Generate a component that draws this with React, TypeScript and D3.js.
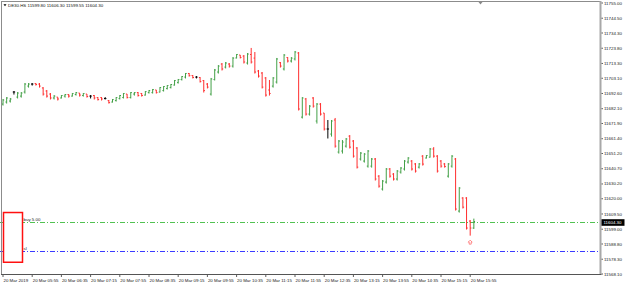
import * as d3 from "d3";

const symbol = "DE30.HS";

// OHLC, 5-minute bars from 20 Mar 2019 05:15
const opens = [
  11685.3, 11686.7, 11687.4, 11693.6, 11690.1, 11690.8, 11693.6, 11697.7, 11699.1, 11699.5,
  11699.1, 11696.4, 11694.3, 11692.2, 11689.5, 11690.1, 11689.5, 11690.8, 11691.9, 11690.8,
  11691.9, 11692.9, 11691.2, 11692.2, 11690.8, 11691.2, 11689.8, 11689.8, 11689.1, 11687.7,
  11686.7, 11687.7, 11689.1, 11689.8, 11692.2, 11689.8, 11692.2, 11693.2, 11692.6, 11691.5,
  11693.2, 11693.2, 11695.0, 11693.6, 11694.6, 11696.0, 11696.7, 11698.4, 11700.1, 11702.2,
  11703.9, 11706.4, 11705.0, 11703.9, 11703.6, 11701.5, 11699.1, 11692.2, 11702.2, 11707.4,
  11712.9, 11710.8, 11712.9, 11711.5, 11717.1, 11719.1, 11718.4, 11713.6, 11719.5, 11717.0,
  11708.1, 11706.7, 11703.3, 11695.0, 11697.7, 11700.5, 11713.9, 11709.5, 11717.4, 11715.0,
  11716.4, 11720.5, 11676.3, 11688.8, 11678.4, 11689.5, 11673.6, 11685.3, 11679.1, 11668.1,
  11664.6, 11674.3, 11652.2, 11652.9, 11656.3, 11663.2, 11659.8, 11655.0, 11647.4, 11646.0,
  11642.5, 11642.5, 11647.4, 11635.6, 11626.7, 11631.5, 11640.5, 11637.0, 11633.6, 11638.4,
  11640.5, 11645.3, 11646.0, 11644.0, 11641.8, 11649.4, 11648.1, 11648.7, 11654.3, 11649.4,
  11646.0, 11644.0, 11635.6, 11642.5, 11647.4, 11611.5, 11620.5, 11620.5, 11604.6, 11599.8,
];
const highs = [
  11688.8, 11690.1, 11689.5, 11694.3, 11693.6, 11693.6, 11699.8, 11699.8, 11699.8, 11699.8,
  11699.8, 11697.0, 11695.0, 11692.9, 11691.5, 11690.1, 11691.5, 11692.2, 11692.2, 11692.9,
  11693.6, 11692.9, 11692.9, 11692.2, 11691.5, 11691.5, 11690.1, 11690.1, 11690.1, 11688.1,
  11688.8, 11690.1, 11691.5, 11692.9, 11692.2, 11693.6, 11693.6, 11693.6, 11692.9, 11694.3,
  11695.0, 11695.7, 11695.0, 11697.0, 11697.7, 11698.4, 11699.1, 11701.9, 11702.6, 11704.6,
  11706.7, 11706.7, 11705.3, 11704.6, 11703.9, 11701.9, 11699.8, 11703.3, 11709.5, 11712.2,
  11713.6, 11714.3, 11713.6, 11717.7, 11719.8, 11719.1, 11719.1, 11720.5, 11724.0, 11721.2,
  11708.8, 11707.4, 11703.9, 11701.9, 11703.9, 11717.1, 11714.3, 11719.8, 11717.7, 11717.7,
  11721.9, 11721.2, 11690.1, 11689.5, 11684.6, 11690.1, 11686.0, 11686.0, 11679.1, 11674.3,
  11674.3, 11675.7, 11660.5, 11660.5, 11661.9, 11663.9, 11660.5, 11655.6, 11652.2, 11651.5,
  11653.6, 11648.1, 11648.1, 11636.3, 11632.9, 11641.2, 11641.2, 11637.7, 11639.8, 11641.8,
  11646.7, 11648.7, 11646.7, 11644.6, 11644.6, 11650.1, 11650.1, 11655.0, 11655.6, 11650.1,
  11646.7, 11644.6, 11644.6, 11650.1, 11648.1, 11628.0, 11621.1, 11621.1, 11605.3, 11606.3,
];
const lows = [
  11684.6, 11686.0, 11686.7, 11692.2, 11689.5, 11690.1, 11692.9, 11697.0, 11698.4, 11698.4,
  11697.0, 11691.5, 11690.1, 11688.8, 11688.8, 11688.1, 11689.5, 11690.1, 11690.1, 11690.8,
  11691.5, 11690.8, 11690.8, 11690.1, 11689.5, 11688.8, 11688.1, 11688.1, 11688.8, 11686.0,
  11686.7, 11687.4, 11688.8, 11689.5, 11689.5, 11689.5, 11691.5, 11690.8, 11690.8, 11691.5,
  11692.9, 11692.9, 11692.9, 11693.6, 11694.3, 11695.7, 11696.4, 11698.4, 11699.8, 11701.9,
  11703.3, 11704.6, 11703.3, 11703.3, 11700.5, 11693.6, 11696.4, 11691.5, 11701.9, 11706.7,
  11708.8, 11710.2, 11710.8, 11710.8, 11717.1, 11717.1, 11713.6, 11712.9, 11713.6, 11706.7,
  11703.9, 11696.4, 11690.8, 11691.5, 11697.0, 11699.8, 11710.8, 11708.8, 11714.3, 11714.3,
  11715.7, 11681.2, 11675.7, 11677.7, 11677.7, 11683.2, 11672.2, 11677.7, 11667.4, 11661.9,
  11663.2, 11655.6, 11651.5, 11651.5, 11655.6, 11655.0, 11648.7, 11641.2, 11646.7, 11645.3,
  11641.8, 11641.8, 11632.9, 11628.0, 11626.0, 11630.8, 11634.9, 11632.9, 11632.9, 11637.7,
  11639.8, 11644.6, 11639.8, 11638.4, 11641.2, 11643.2, 11648.1, 11648.7, 11648.7, 11638.4,
  11641.8, 11641.8, 11634.9, 11641.8, 11612.2, 11610.8, 11613.6, 11599.1, 11594.9, 11599.55,
];
const closes = [
  11688.1, 11689.5, 11688.8, 11693.6, 11692.9, 11692.9, 11699.1, 11699.1, 11699.1, 11698.8,
  11697.7, 11692.2, 11690.8, 11689.5, 11690.8, 11688.8, 11691.2, 11691.9, 11690.8, 11692.6,
  11693.2, 11691.5, 11692.6, 11690.5, 11690.8, 11689.5, 11688.4, 11688.8, 11689.1, 11686.3,
  11688.4, 11689.8, 11691.2, 11692.6, 11689.8, 11693.2, 11693.2, 11691.2, 11691.2, 11693.9,
  11694.6, 11695.3, 11693.2, 11696.7, 11697.4, 11698.1, 11698.8, 11701.5, 11702.2, 11704.3,
  11706.4, 11704.9, 11703.6, 11703.9, 11700.8, 11694.6, 11697.0, 11702.6, 11708.8, 11711.5,
  11709.5, 11713.6, 11711.5, 11717.0, 11719.5, 11717.4, 11714.3, 11719.8, 11714.3, 11707.4,
  11704.6, 11697.0, 11691.5, 11692.6, 11703.3, 11716.4, 11711.5, 11719.1, 11715.0, 11717.0,
  11721.2, 11681.9, 11689.5, 11678.4, 11683.9, 11683.9, 11685.3, 11678.4, 11668.1, 11668.1,
  11673.6, 11656.3, 11659.8, 11659.1, 11661.2, 11655.6, 11649.4, 11641.8, 11651.5, 11650.8,
  11652.9, 11647.4, 11633.6, 11628.7, 11632.2, 11640.5, 11635.6, 11633.6, 11639.1, 11641.2,
  11646.0, 11648.1, 11640.5, 11639.1, 11644.0, 11643.9, 11649.8, 11654.3, 11649.4, 11639.1,
  11642.5, 11642.2, 11644.0, 11649.4, 11612.9, 11627.4, 11614.2, 11599.8, 11599.8, 11604.3,
];

const timeTicks = [
  "05:15", "05:55", "06:35", "07:15", "07:55", "08:35", "09:15", "09:55", "10:35",
  "11:15", "11:55", "12:35", "13:15", "13:55", "14:35", "15:15", "15:55",
];
const priceTicks = [
  11755.0, 11744.5, 11734.3, 11723.8, 11713.3, 11703.1, 11692.6, 11682.1, 11671.9, 11661.4,
  11651.2, 11640.7, 11630.2, 11620.0, 11609.5, 11599.0, 11588.8, 11578.3, 11568.1,
];

const orderPrice = 11604.3;
const orderLabel = "buy 5.00";
const stopLoss = 11584.0;
const stopLabel = "sl";

const W = 625;
const H = 286;
const plotRight = 600;
const plotBottom = 274;
const font = "'Liberation Sans', Arial, sans-serif";
const fs = 4.4;
const UP = "#43a047";
const DOWN = "#ff2e2e";

export default function App() {
  const parse = d3.timeParse("%Y-%m-%d %H:%M");
  const t0 = parse("2019-03-20 05:15")!;
  const times = closes.map((_, i) => d3.timeMinute.offset(t0, 5 * i));

  const x = d3
    .scaleTime()
    .domain([times[0], times[times.length - 1]])
    .range([3, 473.85]);
  const y = d3.scaleLinear().domain([11568.1, 11755]).range([plotBottom, 3]);

  const fmt = d3.format(".2f");
  const tickX = (s: string) => x(parse("2019-03-20 " + s)!);
  const snap = (v: number) => Math.round(v) + 0.5;

  const yOrder = snap(y(orderPrice));
  const ySl = snap(y(stopLoss));

  return (
    <svg
      width={W}
      height={H}
      style={{ position: "absolute", left: 0, top: 0, background: "#fff" }}
      fontFamily={font}
    >
      <rect width={W} height={H} fill="#fff" />

      {/* order / stop lines */}
      <line x1={0} x2={plotRight} y1={yOrder} y2={yOrder}
        stroke="#52c152" strokeWidth={1} strokeDasharray="5,2,1,2" />
      <line x1={0} x2={plotRight} y1={ySl} y2={ySl}
        stroke="#3b3bff" strokeWidth={1} strokeDasharray="5,2,1,2" />
      <text x={23.5} y={yOrder - 1.5} fontSize={fs} fill="#222">{orderLabel}</text>
      <text x={23.5} y={ySl - 1.5} fontSize={fs} fill="#222">{stopLabel}</text>

      {/* bars */}
      {closes.map((c, i) => {
        const o = opens[i];
        const cx = x(times[i]);
        const col = c > o ? UP : c < o ? DOWN : "#000";
        return (
          <g key={i} stroke={col} strokeWidth={1}>
            <line x1={cx} x2={cx} y1={y(highs[i])} y2={y(lows[i]) + 0.5} />
            <line x1={cx - 1.2} x2={cx} y1={y(o)} y2={y(o)} />
            <line x1={cx} x2={cx + 1.2} y1={y(c)} y2={y(c)} />
          </g>
        );
      })}

      {/* buy arrow */}
      {(() => {
        const ax = x(times[128]);
        const ay = y(lows[128]) + 5;
        return (
          <path
            d={`M${ax},${ay} l2,2 h-1 v2 h-2 v-2 h-1 z`}
            fill="#fff"
            stroke="#ff5a5a"
            strokeWidth={0.7}
          />
        );
      })()}

      {/* annotation box */}
      <rect x={x(times[0]) + 0.5} y={y(11610.5)} width={19} height={y(11576.2) - y(11610.5)}
        fill="#fff" stroke="#ff1010" strokeWidth={1.5} />

      {/* frame */}
      <line x1={1.5} x2={1.5} y1={1} y2={plotBottom} stroke="#8c8c8c" />
      <line x1={1} x2={plotRight + 1} y1={1.5} y2={1.5} stroke="#8c8c8c" />
      <line x1={plotRight + 0.5} x2={plotRight + 0.5} y1={1} y2={plotBottom}
        stroke="#a8a8a8" strokeWidth={2} />
      <line x1={1} x2={plotRight + 1.5} y1={plotBottom + 0.5} y2={plotBottom + 0.5} stroke="#555" />
      <path d={`M478.5,2 h4 l-2,2.5 z`} fill="#888" />

      {/* price axis */}
      {priceTicks.map((p) => (
        <g key={p}>
          <line x1={plotRight + 1.5} x2={plotRight + 3} y1={y(p)} y2={y(p)} stroke="#333" strokeWidth={0.8} />
          <text x={604} y={y(p)} dy="0.35em" fontSize={fs} fill="#1a1a1a">
            {fmt(p)}
          </text>
        </g>
      ))}
      <rect x={601.5} y={yOrder - 3.3} width={23} height={6.6} fill="#000" />
      <text x={603.5} y={yOrder} dy="0.35em" fontSize={fs} fill="#fff">
        {fmt(orderPrice)}
      </text>

      {/* time axis */}
      {timeTicks.map((s, i) => {
        const tx = tickX(s);
        return (
          <g key={s}>
            <line x1={tx} x2={tx} y1={plotBottom + 1} y2={plotBottom + 3} stroke="#333" strokeWidth={0.8} />
            <text x={tx + 0.5} y={plotBottom + 7.5} fontSize={fs} fill="#1a1a1a">
              {i === 0 ? "20 Mar 2019" : "20 Mar " + s}
            </text>
          </g>
        );
      })}

      {/* title */}
      <path d="M3.5,4.2 h3 l-1.5,2 z" fill="#000" />
      <text x={8} y={7.3} fontSize={fs} fill="#111">
        {`${symbol} ${fmt(opens[129])} ${fmt(highs[129])} ${fmt(lows[129])} ${fmt(closes[129])}`}
      </text>
    </svg>
  );
}
